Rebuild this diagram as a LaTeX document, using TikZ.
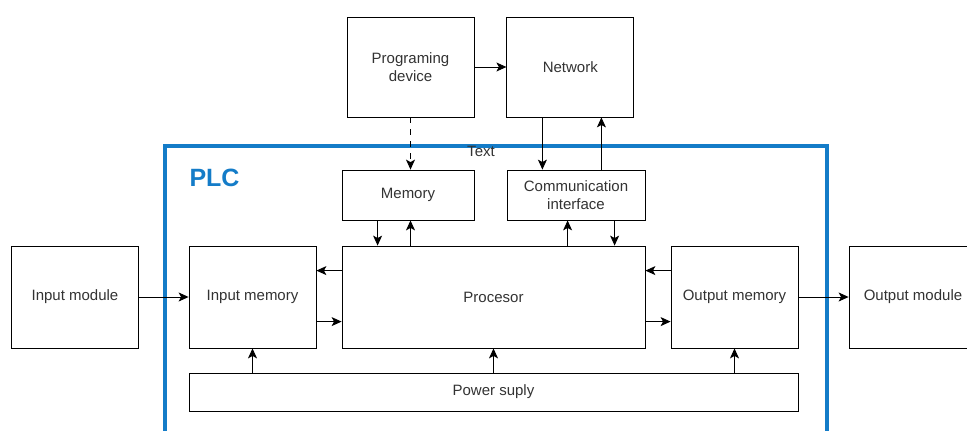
\documentclass[tikz,border=0pt]{standalone}
\usepackage{fontspec}
\setmainfont{Liberation Sans}
\usetikzlibrary{arrows.meta, positioning, calc}
\definecolor{plcBlue}{RGB}{20, 124, 200}
\definecolor{plcText}{RGB}{51, 51, 51}

\begin{document}
\begin{tikzpicture}[
    x=1pt, y=-1pt,
    >=Stealth,
    node distance=32pt and 32pt,
    % Standard Block
    block/.style={
        draw=black,
        fill=white,
        rectangle,
        line width=0.8pt,
        align=center,
        inner sep=2pt,
        minimum width=127pt,
        minimum height=102pt,
        text=plcText,
        font=\fontsize{15}{18}\selectfont
    },
    % Small Block
    smallblock/.style={
        block,
        minimum height=50pt
    },
    % PLC Container Frame
    frame/.style={
        draw=plcBlue,
        rectangle,
        line width=3.8pt,
        inner sep=0pt
    },
    % Arrow Connection Style
    arrow/.style={
        draw=black,
        -{Stealth[length=10pt,width=9pt,inset=2.5pt]},
        line width=0.9pt
    }
]
    \clip (0,0) rectangle (967,431);

    % PLC frame and labels
    \node (plc) [frame, anchor=north west, minimum width=662pt, minimum height=310pt] at (163,144) {};
    \node (plclabel) [anchor=west, text=plcBlue, font=\fontsize{25}{30}\selectfont\bfseries] at (186,178) {PLC};
    \node (plctext) [text=plcText, font=\fontsize{15}{18}\selectfont] at (481,151) {Text};

    % Top row
    \node (progdev) [block, minimum height=100pt] at (410.5,67) {Programing\\device};
    \node (network) [block, minimum height=100pt, right=32pt of progdev] {Network};

    % Inner row
    \node (memory) [smallblock, minimum width=132pt] at (408,195) {Memory};
    \node (comm) [smallblock, minimum width=138pt] at (576,195) {Communication\\interface};

    % Main row
    \node (inmod) [block] at (75,297) {Input module};
    \node (inmem) [block] at (252.5,297) {Input memory};
    \node (proc) [block, minimum width=303pt] at (493.5,297) {Procesor};
    \node (outmem) [block] at (734.5,297) {Output memory};
    \node (outmod) [block, minimum width=128pt] at (913,297) {Output module};

    % Power supply
    \node (power) [block, minimum width=609pt, minimum height=38pt] at (493.5,392) {Power suply};

    % Connector Arrows
    \draw [arrow] (progdev) -- (network);
    \draw [arrow, dashed, dash pattern=on 6pt off 6pt] (progdev.south) -- (progdev.south |- memory.north);

    \draw [arrow] ([xshift=36pt]network.south west) -- ([xshift=36pt]network.south west |- comm.north);
    \draw [arrow] ([xshift=95pt]network.south west |- comm.north) -- ([xshift=95pt]network.south west);

    \draw [arrow] ([xshift=36pt]memory.south west) -- ([xshift=36pt]memory.south west |- proc.north);
    \draw [arrow] (progdev.south |- proc.north) -- (progdev.south |- memory.south);

    \draw [arrow] ([xshift=61pt]comm.south west |- proc.north) -- ([xshift=61pt]comm.south west);
    \draw [arrow] ([xshift=108pt]comm.south west) -- ([xshift=108pt]comm.south west |- proc.north);

    \draw [arrow] ([yshift=-25pt]proc.north west) -- ([yshift=-25pt]proc.north west -| inmem.east);
    \draw [arrow] ([yshift=-76pt]inmem.north east) -- ([yshift=-76pt]inmem.north east -| proc.west);
    \draw [arrow] ([yshift=-25pt]outmem.north west) -- ([yshift=-25pt]outmem.north west -| proc.east);
    \draw [arrow] ([yshift=-76pt]proc.north east) -- ([yshift=-76pt]proc.north east -| outmem.west);

    \draw [arrow] (inmod) -- (inmem);
    \draw [arrow] (outmem) -- (outmod);

    \draw [arrow] (inmem.south |- power.north) -- (inmem.south);
    \draw [arrow] (proc.south |- power.north) -- (proc.south);
    \draw [arrow] (outmem.south |- power.north) -- (outmem.south);

\end{tikzpicture}
\end{document}
